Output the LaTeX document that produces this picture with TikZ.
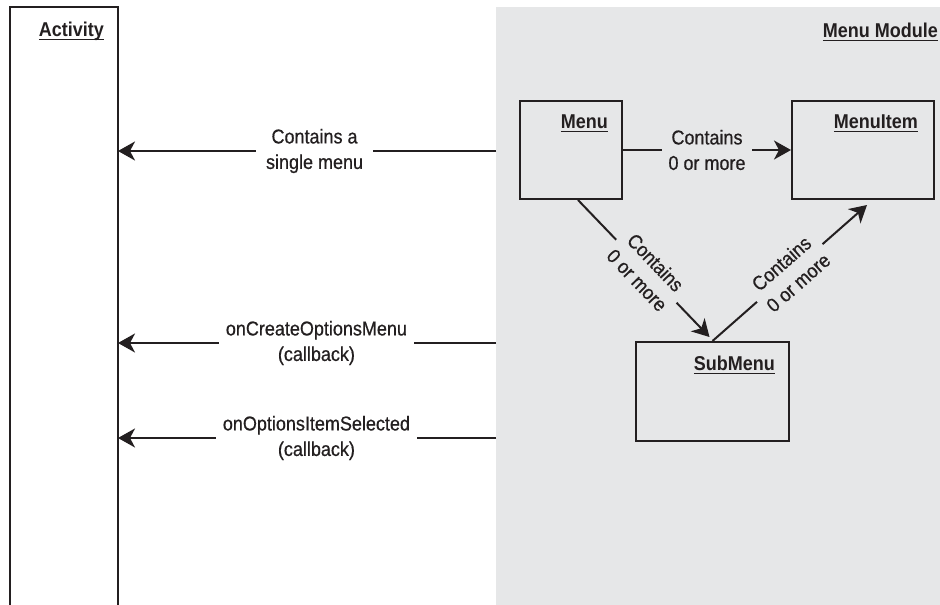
\documentclass[tikz,border=0pt]{standalone}
\usepackage{fontspec}
\setmainfont{Liberation Sans}[FakeStretch=0.9, UprightFeatures={FakeBold=0.6}]
\usetikzlibrary{arrows.meta,calc}
\definecolor{ink}{HTML}{231F20}
\definecolor{modgray}{HTML}{E6E7E8}
\newcommand\ulabel[1]{\setbox0\hbox{\bfseries #1}\rlap{\copy0}\rule[-4.2pt]{\wd0}{1.4pt}}
\tikzset{
  every node/.style={font=\fontsize{20}{25.5}\selectfont, text=ink},
  boxnode/.style={draw=ink, line width=2pt, inner sep=0pt},
  conn/.style={draw=ink, line width=2pt, -{Stealth[length=17pt,width=19pt,inset=5pt]}},
  lbl/.style={align=center, inner sep=7pt},
  title/.style={anchor=base east, inner sep=0pt}
}
\begin{document}
\begin{tikzpicture}[x=1pt,y=-1pt]
\useasboundingbox (0,0) rectangle (940,605);
% module region
\node[fill=modgray, anchor=north west, minimum width=444pt, minimum height=598pt, inner sep=0pt, outer sep=0pt] (module) at (496,7) {};
% activity column
\node[anchor=north west, minimum width=108pt, minimum height=620pt, inner sep=0pt, outer sep=0pt] (activity) at (10,7) {};
\draw[ink, line width=2pt] (activity.south west) -- (activity.north west) -- (activity.north east) -- (activity.south east);
\node[title] (acttitle) at (104,36) {\ulabel{Activity}};
\node[title] (modtitle) at (938,37) {\ulabel{Menu Module}};
% boxes
\node[boxnode, minimum width=102pt, minimum height=98pt] (menu) at (571,150) {};
\node[boxnode, minimum width=142pt, minimum height=98pt] (menuitem) at (863,150) {};
\node[boxnode, minimum width=153pt, minimum height=99pt] (submenu) at (712.5,391.5) {};
\node[title] (menut) at (608,128) {\ulabel{Menu}};
\node[title] (menuitemt) at (918,128) {\ulabel{MenuItem}};
\node[title] (submenut) at (775,370) {\ulabel{SubMenu}};
% connectors within module
\draw[conn] (menu.east) -- node[lbl, fill=modgray, inner sep=6pt] (l1) {Contains\\0 or more} (menuitem.west);
\draw[conn] ([xshift=7pt]menu.south) -- node[lbl, fill=modgray, sloped, inner sep=5pt, pos=0.52] (l2) {Contains\\0 or more} ([xshift=-3pt,yshift=4pt]submenu.north);
\draw[conn] (submenu.north) -- node[lbl, fill=modgray, sloped, inner sep=5pt, pos=0.5] (l3) {Contains\\0 or more} ([xshift=4pt,yshift=-5pt]menuitem.south);
% callbacks to activity
\coordinate (m1) at (module.west |- 0,151);
\coordinate (m2) at (module.west |- 0,343);
\coordinate (m3) at (module.west |- 0,438);
\draw[conn] (m1) -- node[lbl, fill=white, pos=0.48, inner sep=10pt] (c1) {Contains a\\single menu} (activity.east |- m1);
\draw[conn] (m2) -- node[lbl, fill=white, pos=0.475] (c2) {onCreateOptionsMenu\\(callback)} (activity.east |- m2);
\draw[conn] (m3) -- node[lbl, fill=white, pos=0.475] (c3) {onOptionsItemSelected\\(callback)} (activity.east |- m3);
\end{tikzpicture}
\end{document}
